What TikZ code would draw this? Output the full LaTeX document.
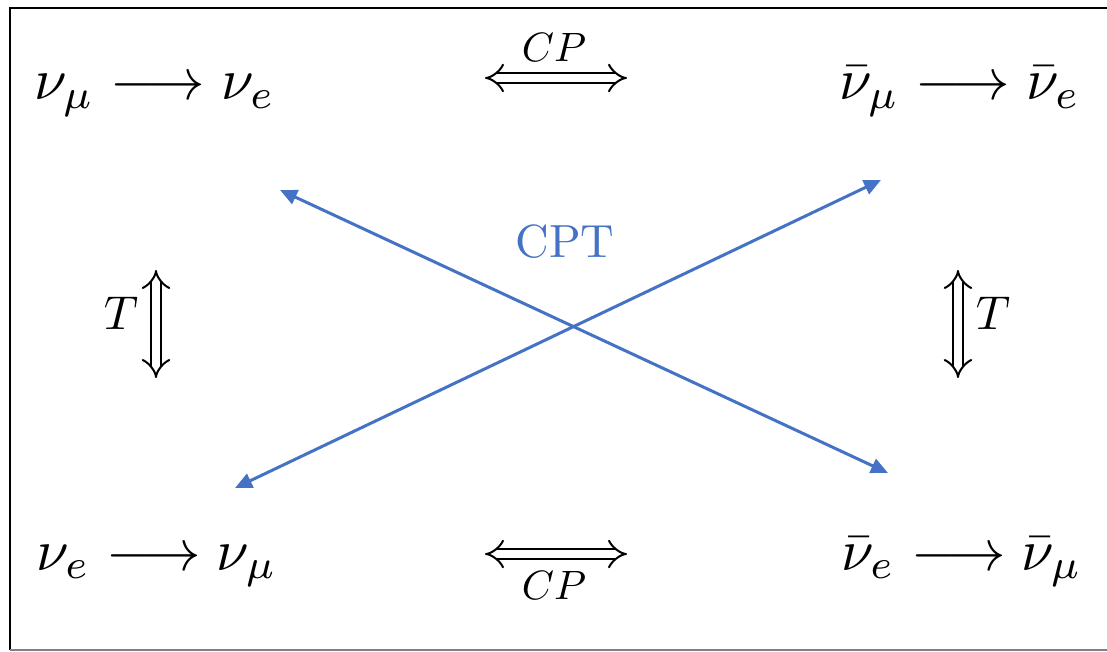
\documentclass[tikz,border=0pt]{standalone}
\usetikzlibrary{arrows.meta}
\definecolor{cptblue}{RGB}{68,114,196}
\tikzset{
  proc/.style={inner sep=0pt, anchor=base west, scale=1.17},
  lbl/.style={inner sep=0pt, anchor=base},
  dbl/.style={double, double distance=1.6pt, line width=0.4pt, {Implies[scale=1.7]}-{Implies[scale=1.7]}},
  cptarrow/.style={cptblue, line width=0.6pt, {Triangle[length=3.4pt,width=3pt]}-{Triangle[length=3.4pt,width=3pt]}},
}
\begin{document}
\begin{tikzpicture}[x=0.2pt,y=-0.2pt]
  \useasboundingbox (0,0) rectangle (1107,652);
  % frame
  \draw[line width=0.4pt] (1107,8) -- (10,8) -- (10,650);
  \draw[line width=0.4pt,gray] (10,650) -- (1107,650);
  % the four processes
  \node[proc] (mue) at (33,100) {$\nu_\mu \longrightarrow \nu_e$};
  \node[proc] (amue) at (838,100) {$\bar\nu_\mu \longrightarrow \bar\nu_e$};
  \node[proc] (emu) at (35,570) {$\nu_e \longrightarrow \nu_\mu$};
  \node[proc] (aemu) at (840,570) {$\bar\nu_e \longrightarrow \bar\nu_\mu$};
  % CP and T
  \coordinate (cp1) at (485,78);  \coordinate (cp2) at (627,78);
  \coordinate (cp3) at (485,554); \coordinate (cp4) at (627,554);
  \coordinate (t1) at (156,270);  \coordinate (t2) at (156,378);
  \coordinate (t3) at (958,270);  \coordinate (t4) at (958,378);
  \draw[dbl] (cp1) -- (cp2);
  \draw[dbl] (cp3) -- (cp4);
  \draw[dbl] (t1) -- (t2);
  \draw[dbl] (t3) -- (t4);
  \node[lbl,scale=0.82] (cptop) at (554,62) {$CP$};
  \node[lbl,scale=0.82] (cpbot) at (554,600) {$CP$};
  \node[lbl,scale=0.95] (tleft) at (121,330) {$T$};
  \node[lbl,scale=0.95] (tright) at (993,330) {$T$};
  % CPT
  \coordinate (x1) at (280,190); \coordinate (x2) at (888,473);
  \coordinate (x3) at (235,488); \coordinate (x4) at (881,180);
  \draw[cptarrow] (x1) -- (x2);
  \draw[cptarrow] (x3) -- (x4);
  \node[lbl,scale=0.93,text=cptblue] (cpt) at (565,258) {CPT};
\end{tikzpicture}
\end{document}
